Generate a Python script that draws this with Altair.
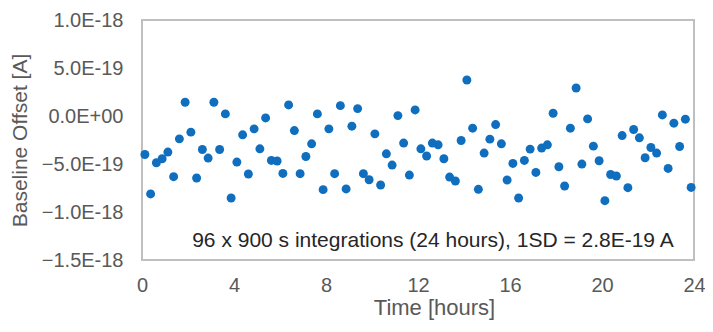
import altair as alt
import pandas as pd

# Time of each 900 s integration (hours)
times = [
    0.125, 0.375, 0.625, 0.875, 1.125, 1.375, 1.625, 1.875, 2.125, 2.375, 2.625, 2.875,
    3.125, 3.375, 3.625, 3.875, 4.125, 4.375, 4.625, 4.875, 5.125, 5.375, 5.625, 5.875,
    6.125, 6.375, 6.625, 6.875, 7.125, 7.375, 7.625, 7.875, 8.125, 8.375, 8.625, 8.875,
    9.125, 9.375, 9.625, 9.875, 10.125, 10.375, 10.625, 10.875, 11.125, 11.375, 11.625, 11.875,
    12.125, 12.375, 12.625, 12.875, 13.125, 13.375, 13.625, 13.875, 14.125, 14.375, 14.625, 14.875,
    15.125, 15.375, 15.625, 15.875, 16.125, 16.375, 16.625, 16.875, 17.125, 17.375, 17.625, 17.875,
    18.125, 18.375, 18.625, 18.875, 19.125, 19.375, 19.625, 19.875, 20.125, 20.375, 20.625, 20.875,
    21.125, 21.375, 21.625, 21.875, 22.125, 22.375, 22.625, 22.875, 23.125, 23.375, 23.625, 23.875,
]

# Baseline offset in units of 1E-19 A
offset_e19 = [
    -4.01, -8.12, -4.87, -4.45, -3.76, -6.32, -2.38, 1.43, -1.68, -6.46, -3.49, -4.38,
    1.43, -3.49, 0.22, -8.54, -4.80, -1.96, -6.04, -1.34, -3.42, -0.20, -4.63, -4.69,
    -5.98, 1.15, -1.52, -6.01, -4.22, -2.90, 0.22, -7.67, -1.34, -6.01, 1.08, -7.60,
    -1.06, 0.77, -6.01, -6.64, -1.86, -7.19, -3.94, -5.11, 0.04, -2.82, -6.15, 0.63,
    -3.42, -4.17, -2.82, -3.00, -4.45, -6.36, -6.77, -2.55, 3.75, -1.27, -7.64, -3.86,
    -2.41, -0.89, -2.90, -6.67, -4.94, -8.54, -4.63, -3.45, -5.88, -3.34, -3.00, 0.29,
    -5.29, -7.29, -1.27, 2.92, -5.01, -0.30, -3.14, -4.66, -8.82, -6.09, -6.25, -2.04,
    -7.47, -1.41, -2.27, -4.35, -3.28, -3.86, 0.11, -5.46, -0.75, -3.18, -0.33, -7.44,
]

y_ticks = [-1.5e-18, -1.0e-18, -5.0e-19, 0.0, 5.0e-19, 1.0e-18]
x_ticks = [0, 4, 8, 12, 16, 20, 24]

note_text = ["96 x 900 s integrations (24 hours), 1SD = 2.8E-19 A"]
note_x = [12.65]
note_y = [-1.30e-18]

df = pd.DataFrame({"t": times, "offset": [v * 1e-19 for v in offset_e19]})
notes = pd.DataFrame({"text": note_text, "x": note_x, "y": note_y})

FONT = "Liberation Sans"
LABEL = "#595959"

x_scale = alt.Scale(domain=[0, 24], nice=False, zero=False)
y_scale = alt.Scale(domain=[-1.5e-18, 1.0e-18], nice=False, zero=False)

points = alt.Chart(df).mark_circle(size=80, opacity=1, color="#0F6EBE").encode(
    x=alt.X(
        "t:Q",
        scale=x_scale,
        axis=alt.Axis(
            title="Time [hours]",
            values=x_ticks,
            grid=False,
            domain=False,
            ticks=False,
            labelPadding=15,
            labelFontSize=20,
            labelColor=LABEL,
            labelFont=FONT,
            titleFont=FONT,
            titleFontSize=22,
            titleFontWeight="normal",
            titleColor=LABEL,
            titlePadding=2,
            titleX=292,
            labelFlush=False,
        ),
    ),
    y=alt.Y(
        "offset:Q",
        scale=y_scale,
        axis=alt.Axis(
            title="Baseline Offset [A]",
            values=y_ticks,
            labelExpr="replace(upper(format(datum.value, '.1e')), 'E+0', 'E+00')",
            grid=False,
            domain=False,
            ticks=False,
            labelPadding=19,
            labelFontSize=20,
            labelColor=LABEL,
            labelFont=FONT,
            titleFont=FONT,
            titleFontSize=21,
            titleFontWeight="normal",
            titleColor=LABEL,
            titlePadding=11,
            labelFlush=False,
        ),
    ),
)

note = alt.Chart(notes).mark_text(
    font=FONT, fontSize=21, color="#262626", align="center", baseline="middle"
).encode(
    x=alt.X("x:Q", scale=x_scale),
    y=alt.Y("y:Q", scale=y_scale),
    text="text:N",
)

chart = (
    alt.layer(points, note)
    .properties(
        width=552,
        height=240,
        autosize=alt.AutoSizeParams(type="none"),
        padding={"left": 134, "top": 12, "right": 11, "bottom": 64},
        background="white",
    )
    .configure_view(stroke="#BFBFBF", strokeWidth=2)
)

chart.save("out.html", embed_options={"renderer": "svg", "actions": False})
